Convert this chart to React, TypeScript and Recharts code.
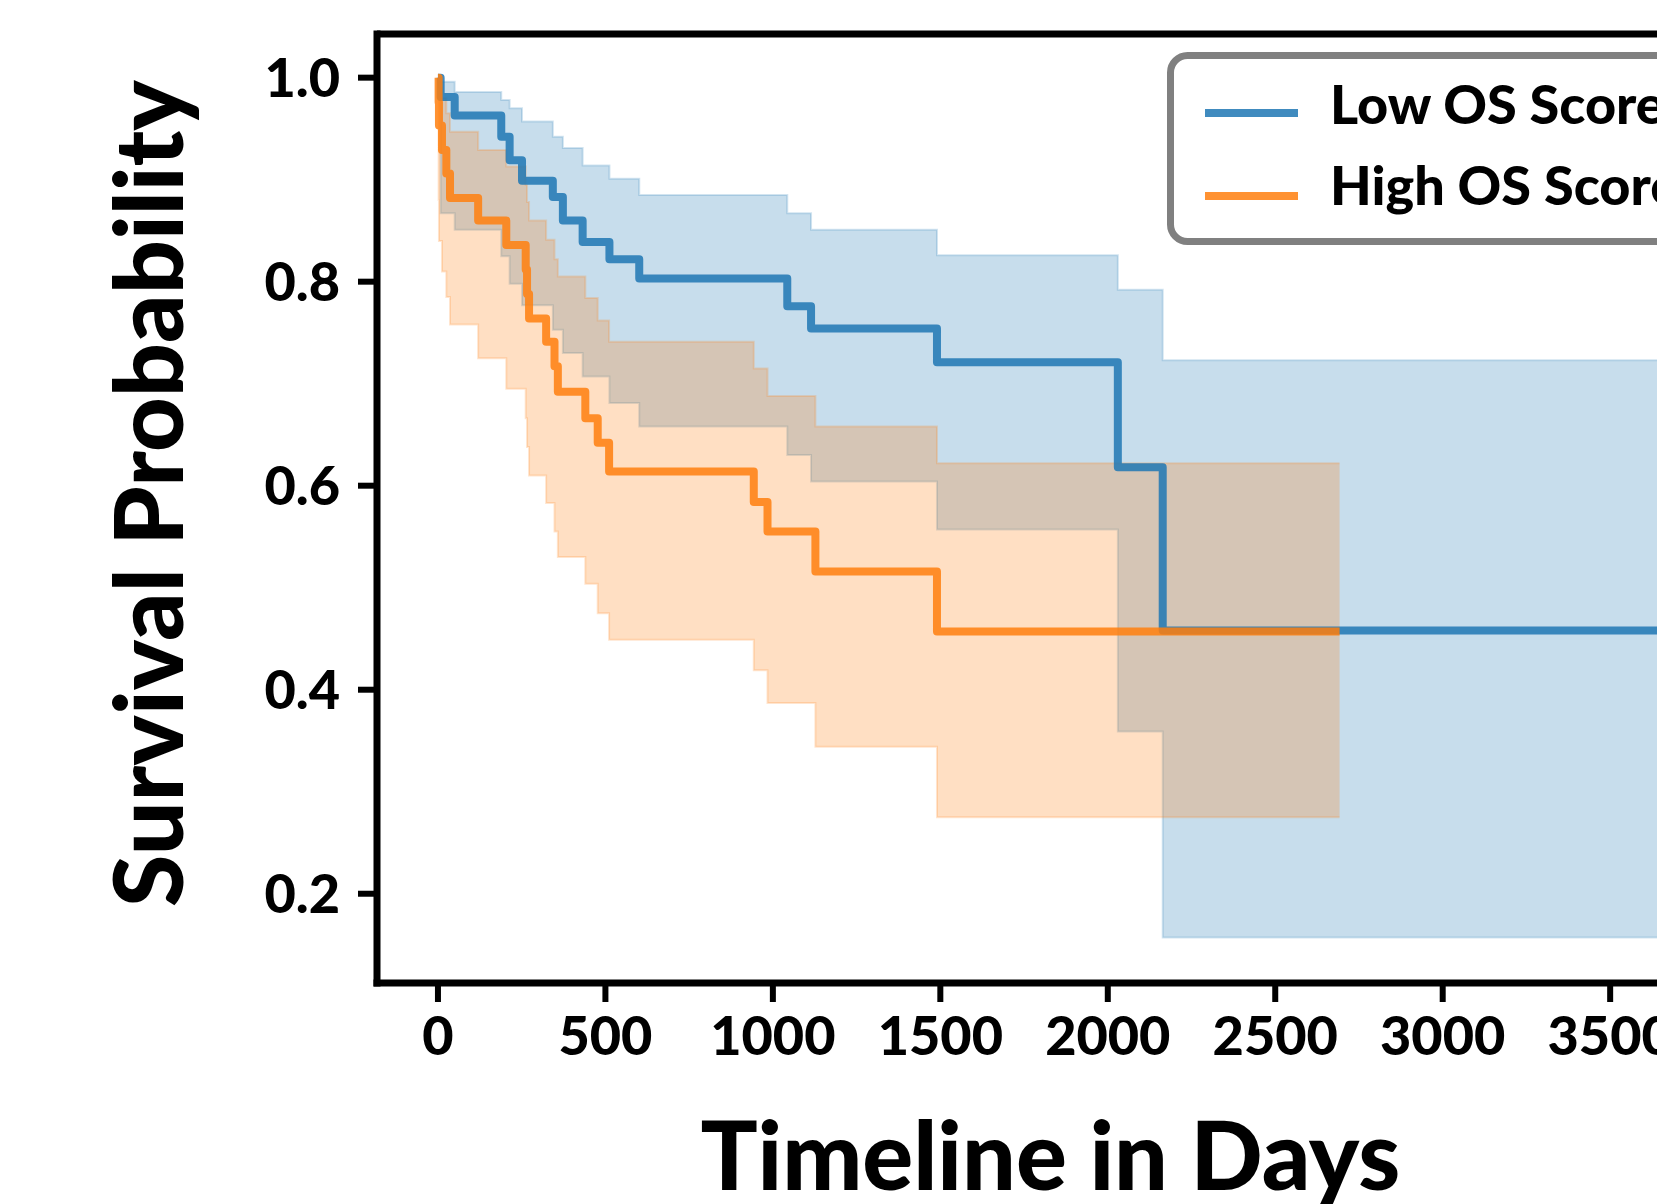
import React from 'react';
import { ComposedChart, Line, Area, XAxis, YAxis, ReferenceLine, Legend } from 'recharts';

// Low OS Score group: Kaplan-Meier steps + 95% CI
const lowDays = [0, 8, 50, 189, 214, 251, 343, 373, 432, 512, 601, 1043, 1114, 1490, 2030, 2164, 3640];
const lowSurv = [1.0, 0.981, 0.963, 0.942, 0.919, 0.899, 0.883, 0.86, 0.839, 0.822, 0.803, 0.776, 0.754, 0.721, 0.618, 0.458, 0.458];
const lowUpper = [1.0, 0.996, 0.986, 0.978, 0.97, 0.957, 0.942, 0.931, 0.914, 0.901, 0.885, 0.867, 0.851, 0.826, 0.792, 0.723, 0.723];
const lowLower = [1.0, 0.867, 0.851, 0.825, 0.798, 0.777, 0.753, 0.73, 0.707, 0.681, 0.658, 0.63, 0.604, 0.557, 0.359, 0.157, 0.157];

// High OS Score group
const highDays = [0, 2, 3, 12, 25, 36, 120, 204, 262, 266, 272, 323, 348, 358, 440, 477, 511, 943, 984, 1127, 1490, 2692];
const highSurv = [1.0, 0.976, 0.953, 0.929, 0.906, 0.882, 0.86, 0.836, 0.812, 0.788, 0.764, 0.741, 0.717, 0.692, 0.666, 0.642, 0.614, 0.584, 0.555, 0.516, 0.457, 0.457];
const highUpper = [1.0, 0.996, 0.99, 0.98, 0.965, 0.947, 0.929, 0.913, 0.895, 0.878, 0.86, 0.841, 0.822, 0.805, 0.784, 0.762, 0.741, 0.715, 0.688, 0.658, 0.622, 0.622];
const highLower = [1.0, 0.88, 0.84, 0.81, 0.785, 0.758, 0.725, 0.695, 0.666, 0.638, 0.61, 0.583, 0.555, 0.53, 0.504, 0.475, 0.449, 0.419, 0.387, 0.344, 0.275, 0.275];

const xTicks = [0, 500, 1000, 1500, 2000, 2500, 3000, 3500];
const yTicks = [0.2, 0.4, 0.6, 0.8, 1.0];
const xDomain = [-182, 3822];
const yDomain = [0.1125, 1.0428];

const seriesNames = ['Low OS Score', 'High OS Score'];
const BLUE = '#1f77b4';
const ORANGE = '#ff7f0e';
const FONT = 'Lato, "DejaVu Sans", sans-serif';
const WEIGHT = 900;

const lowData = lowDays.map((day, i) => ({ day, surv: lowSurv[i], band: [lowLower[i], lowUpper[i]] }));
const highData = highDays.map((day, i) => ({ day, surv: highSurv[i], band: [highLower[i], highUpper[i]] }));

const XTitle = (props: any) => {
    const vb = props.viewBox || {};
    const cx = (vb.x ?? 377) + (vb.width ?? 1340) / 2 + 3;
    return (
        <text x={cx} y={1190} textAnchor="middle" fontFamily={FONT} fontWeight={WEIGHT} fontSize={95} fill="#000">
            Timeline in Days
        </text>
    );
};

const YTitle = (props: any) => {
    const vb = props.viewBox || {};
    const cy = (vb.y ?? 34) + (vb.height ?? 949) / 2 - 15;
    return (
        <text
            x={183}
            y={cy}
            transform={`rotate(-90, 183, ${cy})`}
            textAnchor="middle"
            fontFamily={FONT}
            fontWeight={WEIGHT}
            fontSize={95}
            fill="#000"
        >
            Survival Probability
        </text>
    );
};

const LegendBox = () => (
    <svg width={560} height={210} style={{ display: 'block' }}>
        <rect x={10.5} y={10.5} width={560} height={186} rx={17} fill="#fff" stroke="#808080" strokeWidth={7} />
        <line x1={45} x2={138} y1={68} y2={68} stroke={BLUE} strokeOpacity={0.85} strokeWidth={8} />
        <line x1={45} x2={138} y1={151} y2={151} stroke={ORANGE} strokeOpacity={0.85} strokeWidth={8} />
        <text x={170} y={79} fontFamily={FONT} fontWeight={WEIGHT} fontSize={54} fill="#000">{seriesNames[0]}</text>
        <text x={170} y={160} fontFamily={FONT} fontWeight={WEIGHT} fontSize={54} fill="#000">{seriesNames[1]}</text>
    </svg>
);

export default function App() {
    const tickStyle = { fill: '#000', fontSize: 54, fontWeight: WEIGHT, fontFamily: FONT };
    return (
        <div style={{ position: 'absolute', left: 0, top: 0, width: 1657, height: 1204, overflow: 'hidden', background: '#fff' }}>
            <ComposedChart width={1900} height={1204} margin={{ top: 34, right: 182, bottom: 0, left: 0 }}>
                <XAxis
                    type="number"
                    dataKey="day"
                    domain={xDomain}
                    allowDataOverflow
                    ticks={xTicks}
                    interval={0}
                    height={221}
                    tick={tickStyle}
                    tickSize={19}
                    tickMargin={15}
                    tickLine={{ stroke: '#000', strokeWidth: 6 }}
                    axisLine={{ stroke: '#000', strokeWidth: 7, strokeLinecap: 'square' }}
                    label={<XTitle />}
                />
                <YAxis
                    type="number"
                    domain={yDomain}
                    allowDataOverflow
                    ticks={yTicks}
                    interval={0}
                    width={377}
                    tick={tickStyle}
                    tickFormatter={(v: number) => v.toFixed(1)}
                    tickSize={19}
                    tickMargin={18}
                    tickLine={{ stroke: '#000', strokeWidth: 6 }}
                    axisLine={{ stroke: '#000', strokeWidth: 7, strokeLinecap: 'square' }}
                    label={<YTitle />}
                />
                <ReferenceLine y={yDomain[1]} stroke="#000" strokeWidth={7} />
                <ReferenceLine x={xDomain[1]} stroke="#000" strokeWidth={7} />
                <Area
                    data={lowData}
                    dataKey="band"
                    type="stepAfter"
                    fill={BLUE}
                    fillOpacity={0.25}
                    stroke={BLUE}
                    strokeOpacity={0.2}
                    strokeWidth={2}
                    dot={false}
                    activeDot={false}
                    isAnimationActive={false}
                />
                <Area
                    data={highData}
                    dataKey="band"
                    type="stepAfter"
                    fill={ORANGE}
                    fillOpacity={0.25}
                    stroke={ORANGE}
                    strokeOpacity={0.2}
                    strokeWidth={2}
                    dot={false}
                    activeDot={false}
                    isAnimationActive={false}
                />
                <Line
                    data={lowData}
                    dataKey="surv"
                    name={seriesNames[0]}
                    type="stepAfter"
                    stroke={BLUE}
                    strokeOpacity={0.85}
                    strokeWidth={8}
                    strokeLinejoin="round"
                    dot={false}
                    activeDot={false}
                    isAnimationActive={false}
                />
                <Line
                    data={highData}
                    dataKey="surv"
                    name={seriesNames[1]}
                    type="stepAfter"
                    stroke={ORANGE}
                    strokeOpacity={0.85}
                    strokeWidth={8}
                    strokeLinejoin="round"
                    dot={false}
                    activeDot={false}
                    isAnimationActive={false}
                />
                <Legend
                    layout="vertical"
                    align="center"
                    verticalAlign="middle"
                    wrapperStyle={{ left: 1160, top: 45, width: 560, height: 210 }}
                    content={() => <LegendBox />}
                />
            </ComposedChart>
        </div>
    );
}
